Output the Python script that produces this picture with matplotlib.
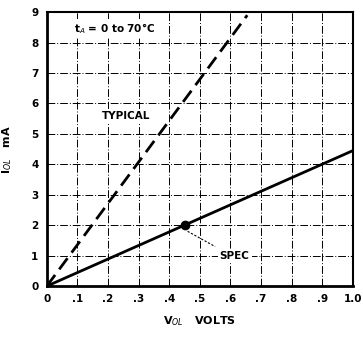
import matplotlib.pyplot as plt

# data
typ_v = [0.0, 0.655]
typ_i = [0.0, 8.9]
spec_v = [0.0, 1.0]
spec_i = [0.0, 4.45]
spec_pt_v = [0.45]
spec_pt_i = [2.0]

x_ticks = [0, 0.1, 0.2, 0.3, 0.4, 0.5, 0.6, 0.7, 0.8, 0.9, 1.0]
x_labels = ["0", ".1", ".2", ".3", ".4", ".5", ".6", ".7", ".8", ".9", "1.0"]
y_ticks = list(range(10))

plt.rcParams["font.family"] = "DejaVu Sans"

fig = plt.figure(figsize=(3.63, 3.37), dpi=100)
ax = fig.add_axes([0.129, 0.151, 0.843, 0.813])

# dash-dot grid, as in the printed datasheet
for xv in x_ticks[1:-1]:
    ax.axvline(xv, color="black", lw=0.7, ls=(0, (8, 2, 1, 2)), zorder=1)
for yv in y_ticks[1:-1]:
    ax.axhline(yv, color="black", lw=0.7, ls=(0, (8, 2, 1, 2)), zorder=1)

ax.plot(typ_v, typ_i, color="black", lw=2.0, ls=(0, (5, 2.5)), zorder=3)
ax.plot(spec_v, spec_i, color="black", lw=2.0, zorder=3)
ax.plot(spec_pt_v, spec_pt_i, "o", color="black", ms=6, zorder=4)
ax.plot([0.46, 0.55], [1.8, 1.3], color="black", lw=0.8, ls=(0, (2, 1.5)), zorder=3)

box = dict(facecolor="white", edgecolor="none", pad=1.5)
ax.text(0.09, 8.45, r"t$_A$ = 0 to 70°C", fontsize=7.5, fontweight="bold",
        ha="left", va="center", bbox=box, zorder=5)
ax.text(0.18, 5.6, "TYPICAL", fontsize=7.5, fontweight="bold",
        ha="left", va="center", bbox=box, zorder=5)
ax.text(0.565, 1.0, "SPEC", fontsize=7.5, fontweight="bold",
        ha="left", va="center", bbox=box, zorder=5)

ax.set_xlim(0, 1.0)
ax.set_ylim(0, 9)
ax.set_xticks(x_ticks)
ax.set_xticklabels(x_labels, fontsize=7.5, fontweight="bold")
ax.set_yticks(y_ticks)
ax.set_yticklabels([str(v) for v in y_ticks], fontsize=7.5, fontweight="bold")
ax.tick_params(length=0, pad=6)

for side in ["left", "bottom"]:
    ax.spines[side].set_linewidth(2.0)
for side in ["top", "right"]:
    ax.spines[side].set_linewidth(1.5)

ax.set_xlabel(r"V$_{OL}$   VOLTS", fontsize=8, fontweight="bold", labelpad=7)
ax.set_ylabel(r"I$_{OL}$   mA", fontsize=8, fontweight="bold", labelpad=12)

fig.savefig("out.png", dpi=100)
